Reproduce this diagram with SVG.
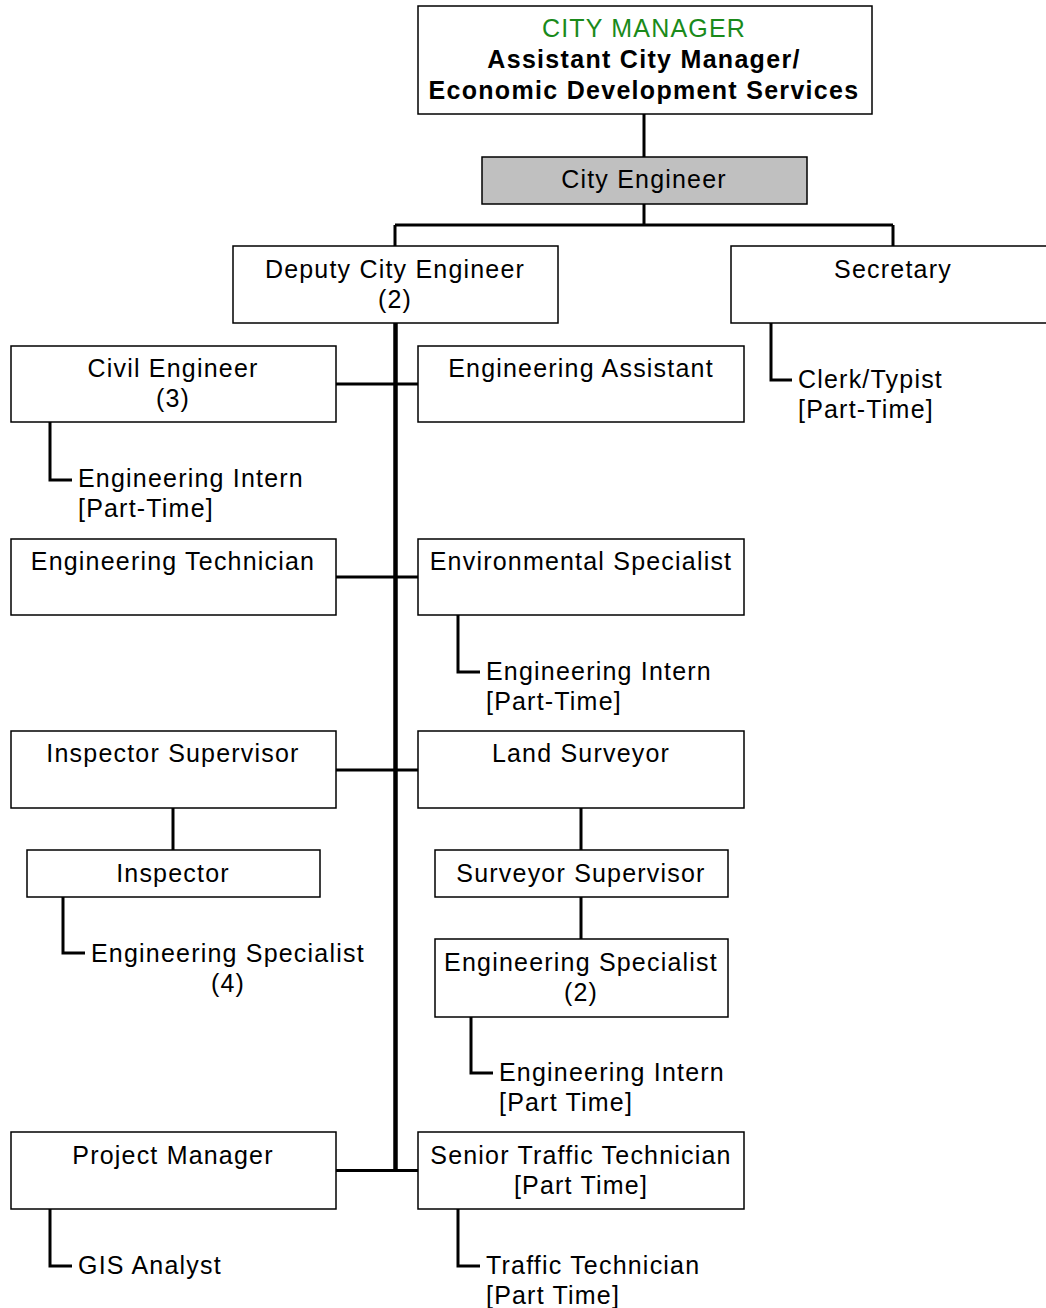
<svg xmlns="http://www.w3.org/2000/svg" width="1046" height="1308" viewBox="0 0 1046 1308">
<style>
.box{fill:#fff;stroke:#000;stroke-width:1.5}
.gray{fill:#c0c0c0}
.t{font-family:"Liberation Sans",Arial,sans-serif;font-size:25px;letter-spacing:1.2px;fill:#000}
.c{text-anchor:middle}
.b{font-weight:bold;letter-spacing:1.3px}
.g{fill:#1a8a1a}
.ln{stroke:#000;stroke-width:3;fill:none}
.trunk{stroke:#000;stroke-width:4.5;fill:none}
</style>
<rect width="1046" height="1308" fill="#fff"/>
<g id="connectors">
<path class="ln" d="M644 114V157M644 204V225M395 225H893M395 225V246M893 225V246"/>
<path class="trunk" d="M395.5 323V1172"/>
<path class="ln" d="M336 384H418M336 577H418M336 770H418M336 1170.5H418"/>
<path class="ln" d="M771 323V380H792"/>
<path class="ln" d="M50 422V480H72"/>
<path class="ln" d="M458 615V672H480"/>
<path class="ln" d="M173 808V850"/>
<path class="ln" d="M63 897V953H85"/>
<path class="ln" d="M581 808V850M581 897V939"/>
<path class="ln" d="M471 1017V1073H493"/>
<path class="ln" d="M50 1209V1266H72"/>
<path class="ln" d="M458 1209V1266H480"/>
</g>
<g id="city-manager">
<rect class="box" x="418" y="6" width="454" height="108"/>
<text class="t c g" x="644" y="37">CITY MANAGER</text>
<text class="t c b" x="644" y="68">Assistant City Manager/</text>
<text class="t c b" x="644" y="99">Economic Development Services</text>
</g>
<g id="city-engineer">
<rect class="box gray" x="482" y="157" width="325" height="47"/>
<text class="t c" x="644" y="188">City Engineer</text>
</g>
<g id="deputy">
<rect class="box" x="233" y="246" width="325" height="77"/>
<text class="t c" x="395" y="278">Deputy City Engineer</text>
<text class="t c" x="395" y="308">(2)</text>
</g>
<g id="secretary">
<rect class="box" x="731" y="246" width="330" height="77"/>
<text class="t c" x="893" y="278">Secretary</text>
</g>
<g id="clerk">
<text class="t" x="798" y="388">Clerk/Typist</text>
<text class="t" x="798" y="418">[Part-Time]</text>
</g>
<g id="civil-engineer">
<rect class="box" x="11" y="346" width="325" height="76"/>
<text class="t c" x="173" y="377">Civil Engineer</text>
<text class="t c" x="173" y="407">(3)</text>
</g>
<g id="eng-assistant">
<rect class="box" x="418" y="346" width="326" height="76"/>
<text class="t c" x="581" y="377">Engineering Assistant</text>
</g>
<g id="intern1">
<text class="t" x="78" y="487">Engineering Intern</text>
<text class="t" x="78" y="517">[Part-Time]</text>
</g>
<g id="eng-technician">
<rect class="box" x="11" y="539" width="325" height="76"/>
<text class="t c" x="173" y="570">Engineering Technician</text>
</g>
<g id="env-specialist">
<rect class="box" x="418" y="539" width="326" height="76"/>
<text class="t c" x="581" y="570">Environmental Specialist</text>
</g>
<g id="intern2">
<text class="t" x="486" y="680">Engineering Intern</text>
<text class="t" x="486" y="710">[Part-Time]</text>
</g>
<g id="inspector-supervisor">
<rect class="box" x="11" y="731" width="325" height="77"/>
<text class="t c" x="173" y="762">Inspector Supervisor</text>
</g>
<g id="land-surveyor">
<rect class="box" x="418" y="731" width="326" height="77"/>
<text class="t c" x="581" y="762">Land Surveyor</text>
</g>
<g id="inspector">
<rect class="box" x="27" y="850" width="293" height="47"/>
<text class="t c" x="173" y="882">Inspector</text>
</g>
<g id="eng-specialist-4">
<text class="t" x="91" y="962">Engineering Specialist</text>
<text class="t c" x="228" y="992">(4)</text>
</g>
<g id="surveyor-supervisor">
<rect class="box" x="435" y="850" width="293" height="47"/>
<text class="t c" x="581" y="882">Surveyor Supervisor</text>
</g>
<g id="eng-specialist-2">
<rect class="box" x="435" y="939" width="293" height="78"/>
<text class="t c" x="581" y="971">Engineering Specialist</text>
<text class="t c" x="581" y="1001">(2)</text>
</g>
<g id="intern3">
<text class="t" x="499" y="1081">Engineering Intern</text>
<text class="t" x="499" y="1111">[Part Time]</text>
</g>
<g id="project-manager">
<rect class="box" x="11" y="1132" width="325" height="77"/>
<text class="t c" x="173" y="1164">Project Manager</text>
</g>
<g id="senior-traffic">
<rect class="box" x="418" y="1132" width="326" height="77"/>
<text class="t c" x="581" y="1164">Senior Traffic Technician</text>
<text class="t c" x="581" y="1194">[Part Time]</text>
</g>
<g id="gis">
<text class="t" x="78" y="1274">GIS Analyst</text>
</g>
<g id="traffic-tech">
<text class="t" x="486" y="1274">Traffic Technician</text>
<text class="t" x="486" y="1304">[Part Time]</text>
</g>
</svg>
